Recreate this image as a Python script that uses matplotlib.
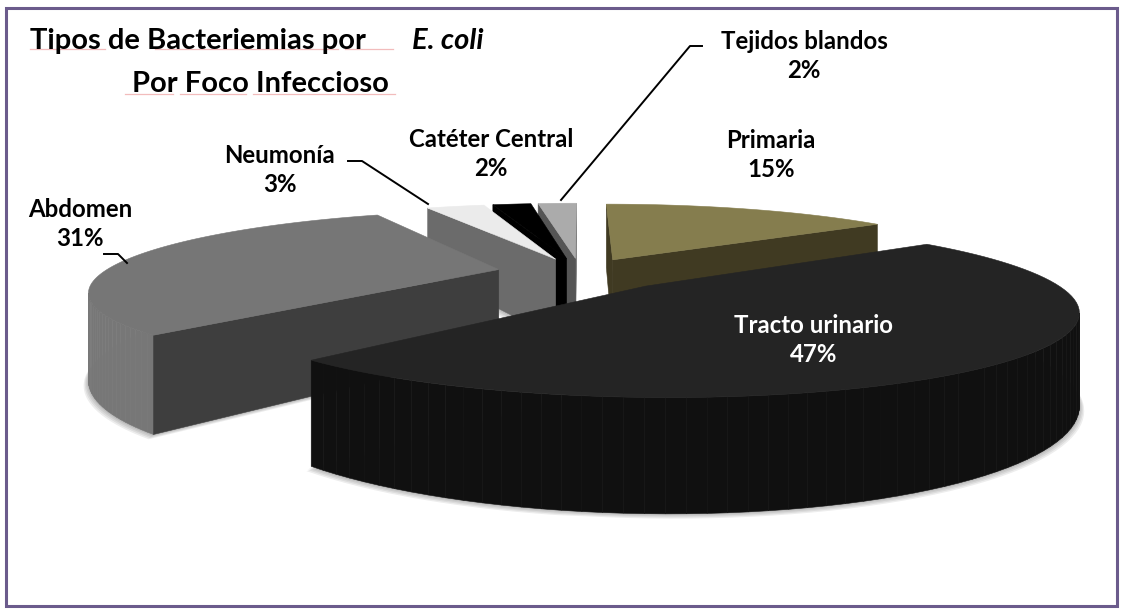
import numpy as np
import matplotlib
matplotlib.use("Agg")
import matplotlib.pyplot as plt
from matplotlib.patches import Polygon, Rectangle

categorias = ["Primaria", "Tracto urinario", "Abdomen", "Neumonía", "Catéter Central", "Tejidos blandos"]
valores = [15, 47, 31, 3, 2, 2]

# separacion de cada rebanada y colores (tapa, corte, pared exterior)
explode = [0.19, 0.24, 0.21, 0.19, 0.19, 0.19]
color_tapa = ["#857d4e", "#242424", "#767676", "#ebebeb", "#000000", "#ababab"]
color_corte = ["#403a22", "#1c1c1c", "#3e3e3e", "#6b6b6b", "#000000", "#555555"]
color_pared = ["#403a22", "#101010", "#777777", "#6b6b6b", "#000000", "#555555"]

# camara: perspectiva simple del plano de la torta a pixeles
CX, CY = 580, 272
A, B, P, H = 395, 75, 0.25, 82


def proyectar(x, y, z=0.0):
    w = 1 - P * y
    return CX + A * x / w, CY + B * y / w + H * z / w


def signed_area(pts):
    p = np.array(pts)
    return 0.5 * np.sum(p[:, 0] * np.roll(p[:, 1], -1) - np.roll(p[:, 0], -1) * p[:, 1])


def dibujar_cara(ax, pts, color, zorder):
    ax.add_patch(Polygon(pts, closed=True, fc=color, ec=color, lw=0.4, zorder=zorder))


fig = plt.figure(figsize=(11.23, 6.14), dpi=100)
ax = fig.add_axes([0, 0, 1, 1])
ax.set_xlim(0, 1123)
ax.set_ylim(614, 0)
ax.axis("off")
plt.rcParams["font.family"] = "Lato"

ax.add_patch(Rectangle((6, 8), 1111, 598, fc="white", ec="#6b5b8c", lw=2.2, zorder=0))

fracc = np.array(valores) / sum(valores)
fin = np.cumsum(fracc) * 2 * np.pi
ini = fin - fracc * 2 * np.pi
medio = (ini + fin) / 2

# de atras hacia adelante
orden = np.argsort(-np.cos(medio) * np.array(explode))

for i in orden:
    ox = explode[i] * np.sin(medio[i])
    oy = -explode[i] * np.cos(medio[i])
    th = np.linspace(ini[i], fin[i], 80)
    bx = ox + np.sin(th)
    by = oy - np.cos(th)
    z0 = 1 + list(orden).index(i) * 3

    # sombra suave
    base = [proyectar(ox, oy, 1)] + [proyectar(a, b, 1) for a, b in zip(bx, by)]
    for k in range(1, 5):
        sombra = [(px + 1.2 * k * np.sign(px - CX), py + 1.2 * k) for px, py in base]
        ax.add_patch(Polygon(sombra, closed=True, fc="black", ec="none", alpha=0.07, zorder=z0))

    # pared exterior
    for j in range(len(th) - 1):
        q = [proyectar(bx[j], by[j]), proyectar(bx[j + 1], by[j + 1]),
             proyectar(bx[j + 1], by[j + 1], 1), proyectar(bx[j], by[j], 1)]
        if signed_area(q) < 0:
            dibujar_cara(ax, q, color_pared[i], z0 + 1)

    # caras de corte
    c1 = [proyectar(ox, oy), proyectar(bx[0], by[0]), proyectar(bx[0], by[0], 1), proyectar(ox, oy, 1)]
    c2 = [proyectar(bx[-1], by[-1]), proyectar(ox, oy), proyectar(ox, oy, 1), proyectar(bx[-1], by[-1], 1)]
    for cara in (c1, c2):
        if signed_area(cara) < 0:
            dibujar_cara(ax, cara, color_corte[i], z0 + 1)

    # tapa
    tapa = [proyectar(ox, oy)] + [proyectar(a, b) for a, b in zip(bx, by)]
    dibujar_cara(ax, tapa, color_tapa[i], z0 + 2)

Z = 50
FS = 17.3
ax.text(30, 41, "Tipos de Bacteriemias por ", fontsize=21, fontweight="bold", ha="left", va="center", zorder=Z)
ax.text(483, 41, "E. coli", fontsize=21, fontweight="bold", style="italic", ha="right", va="center", zorder=Z)
ax.text(260, 84, "Por Foco Infeccioso", fontsize=21, fontweight="bold", ha="center", va="center", zorder=Z)

for x0, x1, y in [(30, 105, 49), (155, 338, 49), (345, 393, 49), (125, 173, 94), (180, 246, 94), (253, 395, 94)]:
    ax.plot([x0, x1], [y, y], color="#f2bcbc", lw=0.9, zorder=Z - 1)

etiquetas = [(771, 155, "white"), (814, 340, "white"), (80, 224, "black"), (280, 170, "black"),
             (491, 154, "black"), (804, 56, "black")]
for i, (x, y, c) in enumerate(etiquetas):
    c = "black" if i == 0 else c
    ax.text(x, y, f"{categorias[i]}\n{valores[i]}%", fontsize=FS, fontweight="bold", color=c,
            ha="center", va="center", linespacing=1.3, zorder=Z)

ax.plot([104, 118, 127], [254, 254, 263], color="black", lw=1.4, zorder=Z)
ax.plot([348, 362, 428], [161, 161, 204], color="black", lw=1.4, zorder=Z)
ax.plot([702, 690, 561], [46, 46, 200], color="black", lw=1.4, zorder=Z)

fig.savefig("out.png", dpi=100)
